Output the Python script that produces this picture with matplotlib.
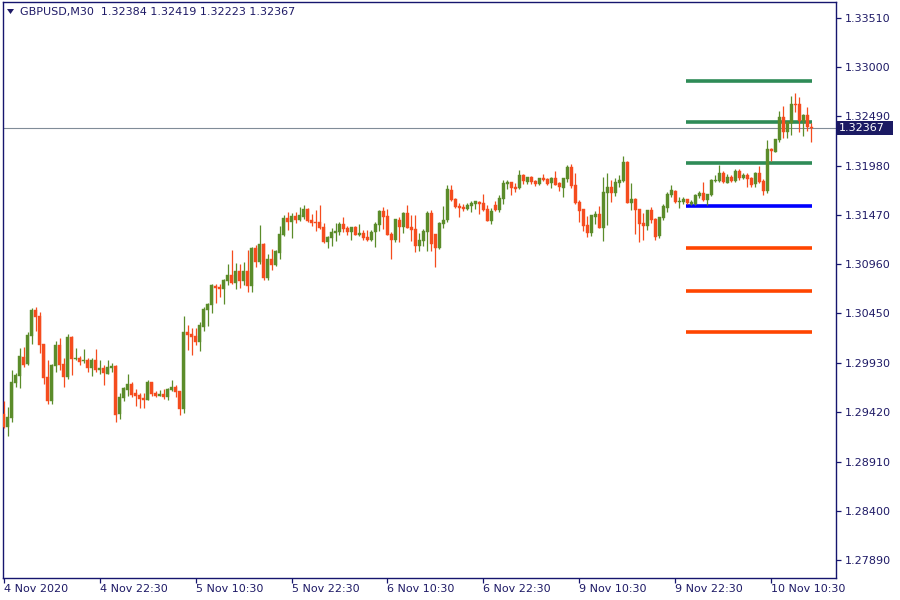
import matplotlib

matplotlib.use("Agg")
import matplotlib.pyplot as plt
import matplotlib.transforms as mtransforms
from matplotlib.patches import Rectangle, Polygon
import numpy as np

# ── data (GBPUSD, M30 bars) ──────────────────────────────────────────────────
opens = [
    1.29404, 1.29266, 1.29366, 1.29729, 1.29802, 1.29995, 1.29926, 1.30216, 1.30483, 1.30420,
    1.30130, 1.29788, 1.29542, 1.29905, 1.30120, 1.29923, 1.29791, 1.30203, 1.29978, 1.29985,
    1.29954, 1.29964, 1.29881, 1.29964, 1.29860, 1.29881, 1.29822, 1.29881, 1.29902, 1.29404,
    1.29570, 1.29653, 1.29715, 1.29622, 1.29601, 1.29573, 1.29553, 1.29736, 1.29622, 1.29591,
    1.29611, 1.29580, 1.29653, 1.29684, 1.29643, 1.29456, 1.30254, 1.30234, 1.30213, 1.30154,
    1.30309, 1.30486, 1.30537, 1.30735, 1.30721, 1.30703, 1.30786, 1.30845, 1.30766, 1.30887,
    1.30786, 1.30887, 1.30735, 1.31125, 1.30983, 1.31167, 1.30817, 1.31011, 1.30952, 1.31077,
    1.31263, 1.31436, 1.31398, 1.31457, 1.31419, 1.31450, 1.31530, 1.31416, 1.31395, 1.31395,
    1.31343, 1.31187, 1.31232, 1.31281, 1.31291, 1.31374, 1.31332, 1.31291, 1.31343, 1.31260,
    1.31281, 1.31239, 1.31208, 1.31291, 1.31364, 1.31509, 1.31457, 1.31270, 1.31208, 1.31415,
    1.31343, 1.31488, 1.31343, 1.31322, 1.31146, 1.31198, 1.31291, 1.31488, 1.31270, 1.31125,
    1.31374, 1.31415, 1.31727, 1.31633, 1.31561, 1.31550, 1.31530, 1.31561, 1.31581, 1.31602,
    1.31592, 1.31530, 1.31405, 1.31571, 1.31520, 1.31634, 1.31789, 1.31810, 1.31758, 1.31748,
    1.31883, 1.31810, 1.31862, 1.31820, 1.31789, 1.31852, 1.31841, 1.31800, 1.31852, 1.31800,
    1.31748, 1.31841, 1.31966, 1.31779, 1.31603, 1.31530, 1.31364, 1.31281, 1.31447, 1.31478,
    1.31333, 1.31696, 1.31758, 1.31696, 1.31800, 1.31820, 1.32018, 1.31592, 1.31634, 1.31530,
    1.31385, 1.31354, 1.31520, 1.31426, 1.31250, 1.31437, 1.31540, 1.31675, 1.31717, 1.31603,
    1.31603, 1.31634, 1.31582, 1.31582, 1.31665, 1.31696, 1.31623, 1.31675, 1.31820, 1.31820,
    1.31903, 1.31800, 1.31862, 1.31820, 1.31924, 1.31852, 1.31883, 1.31852, 1.31789, 1.31903,
    1.31820, 1.31717, 1.32152, 1.32121, 1.32246, 1.32484, 1.32329, 1.32422, 1.32619, 1.32619,
    1.32443, 1.32505, 1.32384,
]
highs = [
    1.29539, 1.29477, 1.29860, 1.29826, 1.30088, 1.30099, 1.30251, 1.30503, 1.30517, 1.30462,
    1.30130, 1.29964, 1.29923, 1.30161, 1.30196, 1.29985, 1.30234, 1.30213, 1.30085, 1.30005,
    1.30078, 1.29985, 1.29985, 1.30078, 1.29964, 1.29912, 1.29964, 1.29933, 1.29912, 1.29625,
    1.29684, 1.29819, 1.29736, 1.29663, 1.29622, 1.29622, 1.29760, 1.29736, 1.29643, 1.29653,
    1.29663, 1.29674, 1.29757, 1.29705, 1.29643, 1.30420, 1.30327, 1.30296, 1.30296, 1.30358,
    1.30517, 1.30558, 1.30752, 1.30752, 1.30752, 1.30804, 1.30959, 1.31104, 1.30970, 1.30959,
    1.30980, 1.31104, 1.31136, 1.31156, 1.31364, 1.31177, 1.31063, 1.31115, 1.31104, 1.31353,
    1.31467, 1.31498, 1.31488, 1.31498, 1.31550, 1.31571, 1.31540, 1.31478, 1.31519, 1.31571,
    1.31384, 1.31253, 1.31333, 1.31384, 1.31395, 1.31447, 1.31353, 1.31343, 1.31353, 1.31374,
    1.31312, 1.31312, 1.31312, 1.31395, 1.31519, 1.31550, 1.31530, 1.31291, 1.31426, 1.31447,
    1.31498, 1.31571, 1.31467, 1.31467, 1.31281, 1.31322, 1.31509, 1.31519, 1.31270, 1.31395,
    1.31561, 1.31778, 1.31778, 1.31644, 1.31592, 1.31581, 1.31592, 1.31612, 1.31612, 1.31612,
    1.31685, 1.31571, 1.31540, 1.31612, 1.31675, 1.31831, 1.31831, 1.31810, 1.31800, 1.31935,
    1.31893, 1.31862, 1.31872, 1.31831, 1.31852, 1.31893, 1.31852, 1.31862, 1.31924, 1.31810,
    1.31852, 1.31986, 1.31997, 1.31903, 1.31623, 1.31530, 1.31457, 1.31468, 1.31509, 1.31561,
    1.31862, 1.31903, 1.31831, 1.31852, 1.31883, 1.32080, 1.32028, 1.31800, 1.31644, 1.31530,
    1.31489, 1.31520, 1.31551, 1.31437, 1.31447, 1.31582, 1.31706, 1.31779, 1.31727, 1.31654,
    1.31654, 1.31634, 1.31623, 1.31686, 1.31717, 1.31810, 1.31686, 1.31841, 1.31883, 1.31986,
    1.31924, 1.31893, 1.31883, 1.31945, 1.31945, 1.31903, 1.31903, 1.31862, 1.31914, 1.31976,
    1.31841, 1.32246, 1.32163, 1.32256, 1.32546, 1.32598, 1.32443, 1.32702, 1.32733, 1.32691,
    1.32515, 1.32588, 1.32419,
]
lows = [
    1.29255, 1.29179, 1.29325, 1.29687, 1.29677, 1.29888, 1.29916, 1.30133, 1.30268, 1.30040,
    1.29719, 1.29511, 1.29511, 1.29843, 1.29864, 1.29687, 1.29764, 1.29812, 1.29964, 1.29916,
    1.29933, 1.29843, 1.29802, 1.29840, 1.29822, 1.29708, 1.29822, 1.29840, 1.29325, 1.29356,
    1.29539, 1.29594, 1.29584, 1.29490, 1.29470, 1.29470, 1.29549, 1.29591, 1.29580, 1.29591,
    1.29563, 1.29549, 1.29643, 1.29584, 1.29397, 1.29418, 1.30068, 1.30019, 1.30123, 1.30061,
    1.30268, 1.30320, 1.30455, 1.30558, 1.30620, 1.30548, 1.30745, 1.30755, 1.30703, 1.30714,
    1.30745, 1.30672, 1.30672, 1.30932, 1.30963, 1.30797, 1.30797, 1.30900, 1.30942, 1.31015,
    1.31250, 1.31312, 1.31232, 1.31388, 1.31405, 1.31429, 1.31395, 1.31353, 1.31301, 1.31322,
    1.31177, 1.31125, 1.31146, 1.31198, 1.31260, 1.31291, 1.31260, 1.31208, 1.31260, 1.31250,
    1.31208, 1.31198, 1.31198, 1.31135, 1.31301, 1.31322, 1.31260, 1.31011, 1.31187, 1.31187,
    1.31281, 1.31332, 1.31198, 1.31084, 1.31094, 1.31146, 1.31094, 1.31094, 1.30928, 1.31115,
    1.31332, 1.31395, 1.31612, 1.31540, 1.31447, 1.31509, 1.31519, 1.31498, 1.31530, 1.31478,
    1.31509, 1.31405, 1.31374, 1.31509, 1.31499, 1.31582, 1.31737, 1.31675, 1.31706, 1.31737,
    1.31789, 1.31789, 1.31789, 1.31769, 1.31779, 1.31820, 1.31779, 1.31748, 1.31779, 1.31717,
    1.31655, 1.31810, 1.31748, 1.31582, 1.31395, 1.31302, 1.31240, 1.31250, 1.31375, 1.31333,
    1.31202, 1.31364, 1.31603, 1.31665, 1.31758, 1.31810, 1.31592, 1.31520, 1.31271, 1.31188,
    1.31209, 1.31312, 1.31385, 1.31209, 1.31229, 1.31416, 1.31499, 1.31654, 1.31592, 1.31540,
    1.31582, 1.31582, 1.31572, 1.31572, 1.31644, 1.31613, 1.31572, 1.31665, 1.31810, 1.31810,
    1.31800, 1.31800, 1.31810, 1.31810, 1.31831, 1.31841, 1.31758, 1.31758, 1.31758, 1.31800,
    1.31675, 1.31696, 1.32028, 1.32121, 1.32225, 1.32266, 1.32266, 1.32297, 1.32536, 1.32329,
    1.32287, 1.32339, 1.32223,
]
closes = [
    1.29266, 1.29373, 1.29736, 1.29808, 1.30005, 1.29916, 1.30220, 1.30483, 1.30413, 1.30123,
    1.29781, 1.29542, 1.29912, 1.30120, 1.29916, 1.29791, 1.30203, 1.29978, 1.29985, 1.29947,
    1.29967, 1.29884, 1.29964, 1.29860, 1.29881, 1.29833, 1.29891, 1.29902, 1.29397, 1.29580,
    1.29674, 1.29715, 1.29601, 1.29591, 1.29563, 1.29553, 1.29736, 1.29615, 1.29591, 1.29611,
    1.29580, 1.29663, 1.29684, 1.29632, 1.29459, 1.30254, 1.30227, 1.30206, 1.30154, 1.30330,
    1.30496, 1.30548, 1.30741, 1.30714, 1.30703, 1.30793, 1.30845, 1.30766, 1.30887, 1.30786,
    1.30887, 1.30735, 1.31125, 1.30983, 1.31167, 1.30817, 1.31011, 1.30952, 1.31094, 1.31270,
    1.31436, 1.31398, 1.31457, 1.31419, 1.31467, 1.31530, 1.31405, 1.31388, 1.31388, 1.31333,
    1.31187, 1.31239, 1.31291, 1.31301, 1.31374, 1.31322, 1.31291, 1.31343, 1.31260, 1.31281,
    1.31229, 1.31208, 1.31291, 1.31374, 1.31509, 1.31447, 1.31260, 1.31208, 1.31426, 1.31343,
    1.31488, 1.31332, 1.31312, 1.31146, 1.31208, 1.31301, 1.31488, 1.31166, 1.31125, 1.31384,
    1.31415, 1.31737, 1.31623, 1.31550, 1.31540, 1.31530, 1.31571, 1.31592, 1.31612, 1.31581,
    1.31519, 1.31405, 1.31509, 1.31519, 1.31644, 1.31800, 1.31810, 1.31748, 1.31737, 1.31883,
    1.31820, 1.31862, 1.31810, 1.31789, 1.31852, 1.31831, 1.31789, 1.31852, 1.31779, 1.31758,
    1.31852, 1.31966, 1.31769, 1.31592, 1.31509, 1.31354, 1.31281, 1.31468, 1.31478, 1.31333,
    1.31706, 1.31758, 1.31696, 1.31810, 1.31831, 1.32018, 1.31592, 1.31634, 1.31520, 1.31375,
    1.31354, 1.31520, 1.31416, 1.31240, 1.31447, 1.31561, 1.31686, 1.31727, 1.31603, 1.31613,
    1.31634, 1.31592, 1.31603, 1.31675, 1.31696, 1.31623, 1.31686, 1.31831, 1.31831, 1.31903,
    1.31810, 1.31862, 1.31820, 1.31924, 1.31852, 1.31883, 1.31841, 1.31779, 1.31903, 1.31810,
    1.31717, 1.32152, 1.32132, 1.32256, 1.32484, 1.32329, 1.32432, 1.32619, 1.32609, 1.32443,
    1.32505, 1.32380, 1.32367,
]

price_ticks = [1.33510, 1.33000, 1.32490, 1.31980, 1.31470, 1.30960,
               1.30450, 1.29930, 1.29420, 1.28910, 1.28400, 1.27890]
time_bars = [0, 24, 48, 72, 96, 120, 144, 168, 192]
time_labels = ["4 Nov 2020", "4 Nov 22:30", "5 Nov 10:30", "5 Nov 22:30", "6 Nov 10:30",
               "6 Nov 22:30", "9 Nov 10:30", "9 Nov 22:30", "10 Nov 10:30"]

resistance = [1.32854, 1.32427, 1.32002]
pivot = 1.31556
support = [1.31125, 1.30679, 1.30254]
level_from, level_to = 170.7, 202.2  # bar index span of the level lines

last_price = 1.32367
header = "GBPUSD,M30  1.32384 1.32419 1.32223 1.32367"

# ── style ───────────────────────────────────────────────────────────────────
plt.rcParams.update({"font.family": "DejaVu Sans", "font.size": 8})
NAVY = "#15156e"
TXT = "#1e1a66"
BULL = "#5b8c2a"
BEAR = "#f54c1e"

fig = plt.figure(figsize=(9, 6), dpi=100)
fig.patch.set_facecolor("white")
ax = fig.add_axes([2.5 / 900, 22 / 600, 833.5 / 900, 576 / 600])
ax.set_xlim(-0.3, 208.2)
ax.set_ylim(1.27703, 1.33676)

o = np.array(opens)
h = np.array(highs)
l = np.array(lows)
c = np.array(closes)
x = np.arange(len(o))
up = c >= o
cols = np.where(up, BULL, BEAR)

# current price line (behind everything)
ax.axhline(last_price, color="#808c98", lw=0.8, zorder=1)

# support / resistance levels
ax.hlines(resistance, level_from, level_to, color="#2e8b57", lw=2.6, zorder=2)
ax.hlines([pivot], level_from, level_to, color="#0000ff", lw=2.6, zorder=2)
ax.hlines(support, level_from, level_to, color="#ff4500", lw=2.6, zorder=2)

# candles
ax.vlines(x, l, h, colors=cols, lw=0.9, zorder=3)
body_lo = np.minimum(o, c)
body_h = np.maximum(np.abs(c - o), 0.00003)
ax.bar(x, body_h, bottom=body_lo, width=0.72, color=cols, edgecolor=cols, lw=0.3, zorder=4)

# axes frame and ticks
for sp in ax.spines.values():
    sp.set_color(NAVY)
    sp.set_linewidth(1.0)
ax.yaxis.tick_right()
ax.set_yticks(price_ticks)
ax.set_yticklabels([f"{p:.5f}" for p in price_ticks])
ax.tick_params(axis="y", direction="out", length=3.5, width=0.9, color=NAVY,
               labelcolor=TXT, labelsize=8, pad=3)
ax.set_xticks(time_bars)
ax.set_xticklabels(time_labels, ha="left")
ax.tick_params(axis="x", direction="out", length=3.5, width=0.9, color=NAVY,
               labelcolor=TXT, labelsize=8, pad=0.5)

# last price tag on the price scale
blend = mtransforms.blended_transform_factory(fig.transFigure, ax.transData)
tag_h = 14 * 0.0001037
ax.add_patch(Rectangle((837 / 900, last_price - tag_h / 2), 56 / 900, tag_h,
                       transform=blend, facecolor="#1b1a63", edgecolor="none",
                       clip_on=False, zorder=5))
ax.text(839 / 900, last_price, f"{last_price:.5f}", transform=blend, color="white",
        fontsize=8, va="center", ha="left", zorder=6, clip_on=False)

# header
fig.patches.append(Polygon([[7 / 900, 1 - 9 / 600], [14 / 900, 1 - 9 / 600], [10.5 / 900, 1 - 14 / 600]],
                           closed=True, transform=fig.transFigure, facecolor=TXT, edgecolor="none"))
fig.text(20 / 900, 1 - 12 / 600, header, color=TXT, fontsize=8, va="center", ha="left")

fig.savefig("out.png", dpi=100)
